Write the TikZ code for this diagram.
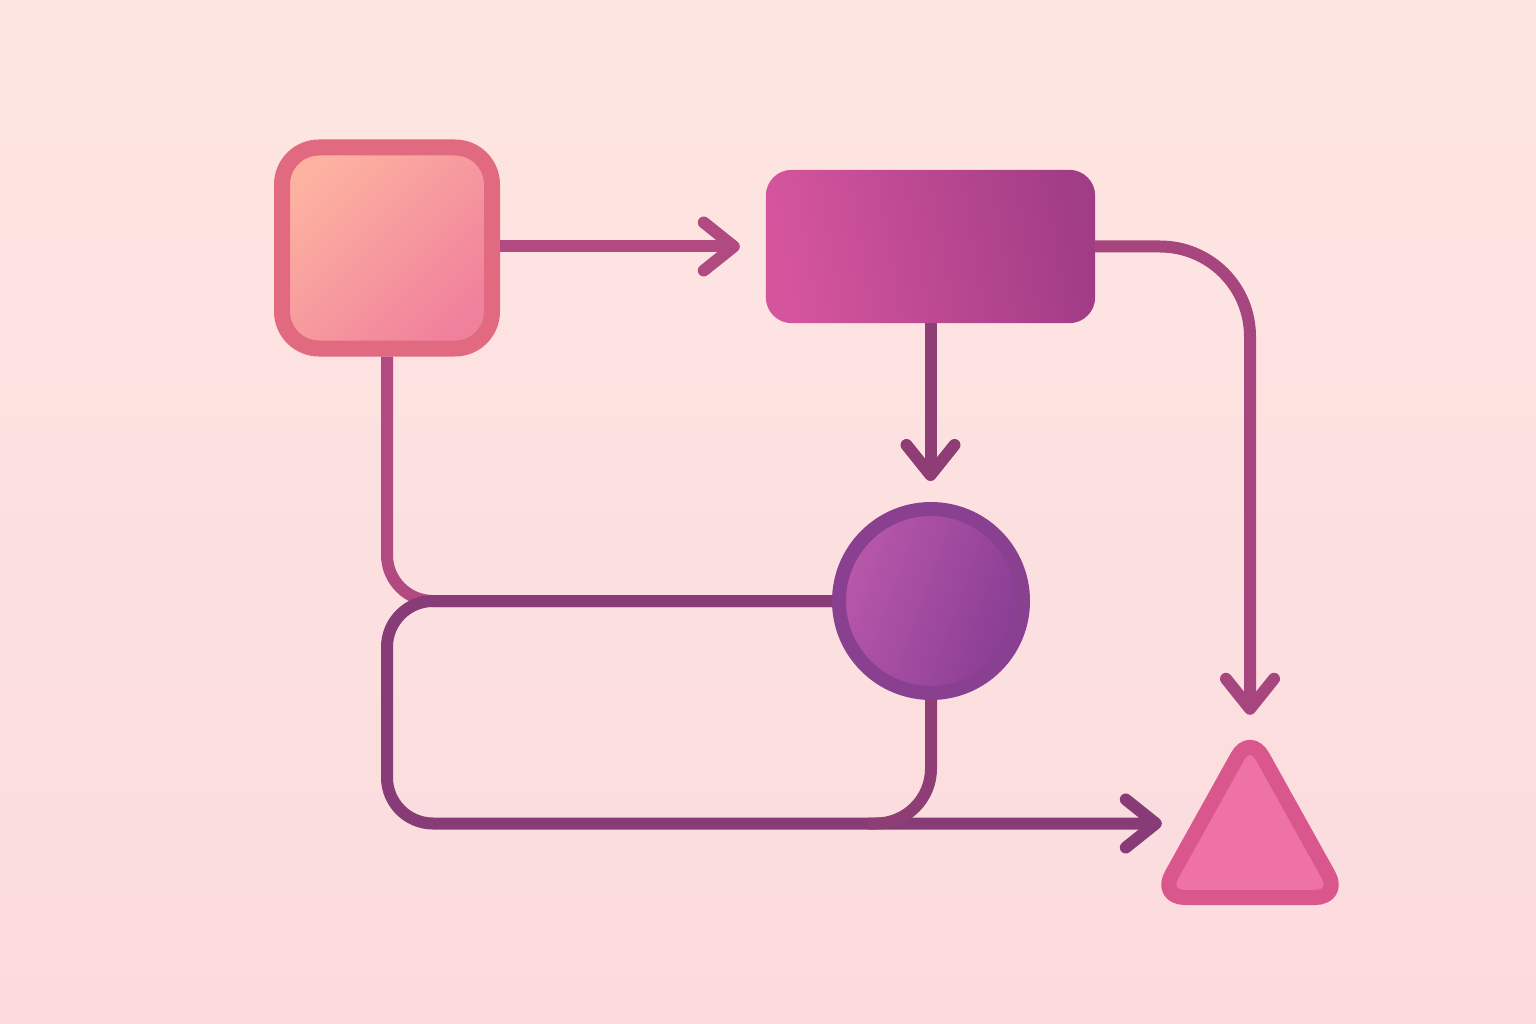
\documentclass[tikz,border=0pt]{standalone}
\usetikzlibrary{arrows.meta}
\definecolor{bgtop}{HTML}{FDE6E2}
\definecolor{bgbot}{HTML}{FCDBDE}
\definecolor{sqborder}{HTML}{E16A80}
\definecolor{sqlight}{HTML}{FDB1A0}
\definecolor{sqdark}{HTML}{F0819C}
\definecolor{rectlight}{HTML}{D5559D}
\definecolor{rectdark}{HTML}{A13C86}
\definecolor{circborder}{HTML}{8A4090}
\definecolor{circlight}{HTML}{B958AB}
\definecolor{circdark}{HTML}{873D93}
\definecolor{triborder}{HTML}{DA578E}
\definecolor{trifill}{HTML}{EE72A5}
\definecolor{lineA}{HTML}{B04A80}
\definecolor{lineB}{HTML}{A6457E}
\definecolor{lineC}{HTML}{8E3D75}
\definecolor{lineD}{HTML}{883C77}
\begin{document}
\begin{tikzpicture}[x=1pt,y=-1pt,
  link/.style={line width=12pt, line join=round},
  tip/.style={-{Straight Barb[length=30pt,width=48pt,round]}},
  sqbox/.style={draw=sqborder, line width=16pt, rounded corners=37pt,
    minimum width=210pt, minimum height=201pt, inner sep=0pt,
    top color=sqlight, bottom color=sqdark, shading angle=45},
  rectbox/.style={minimum width=329pt, minimum height=153pt, inner sep=0pt},
  rectshade/.style={rounded corners=26pt, left color=rectlight, right color=rectdark, shading angle=100},
  circbox/.style={circle, draw=circborder, line width=14pt, minimum size=184pt,
    inner sep=0pt, top color=circlight, bottom color=circdark, shading angle=70},
  trishape/.style={draw=triborder, fill=trifill, line width=15pt, rounded corners=26pt, line join=round}
]
\shade[top color=bgtop, bottom color=bgbot] (0,0) rectangle (1536,1024);
\useasboundingbox (0,0) rectangle (1536,1024);

\node[sqbox] (A) at (387,248) {};
\node[rectbox] (B) at (930.5,246.5) {};
\shade[rectshade] (B.south west) rectangle (B.north east);
\node[circbox] (C) at (931,601) {};
\node[inner sep=0pt, minimum width=176pt, minimum height=163pt] (D) at (1250,823.5) {};
\coordinate (LL) at (387,823.5);
\coordinate (M) at (868,823.5);

% triangle
\draw[trishape] (1250,734) -- (1341,897.5) -- (1159,897.5) -- cycle;

% connectors
\draw[link, lineA, tip, shorten >=26pt] (A.east |- B.west) -- (B.west);
\draw[link, lineC, tip, shorten >=21pt] (B.south) -- (B.south |- C.north);
\draw[link, lineB, tip, shorten >=27pt, rounded corners=90pt] (B.east) -| (D.north);
\draw[link, lineA, rounded corners=46pt] (A.south) |- (C.west);
\draw[link, lineD, tip, rounded corners=46pt] (C.west) -| (LL) -- (D.west);
\draw[link, lineC, rounded corners=55pt] (C.south) |- (M);
\end{tikzpicture}
\end{document}
